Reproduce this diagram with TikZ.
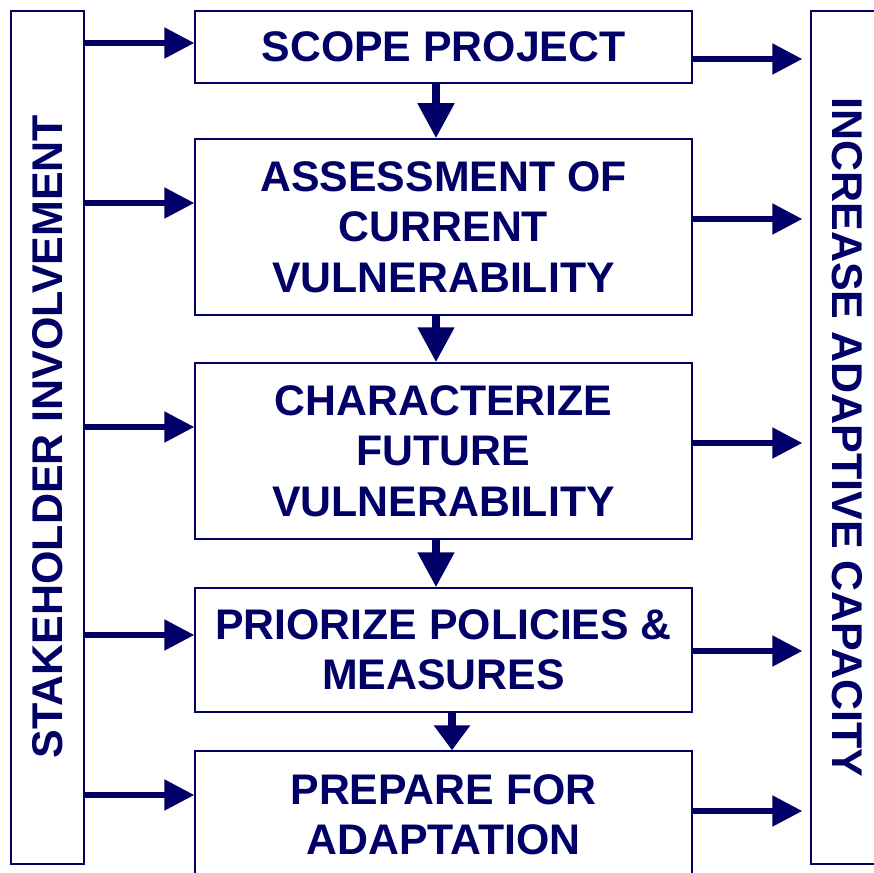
\documentclass[tikz,border=0pt]{standalone}
\usepackage{fontspec}
\setmainfont{Liberation Sans}
\usetikzlibrary{arrows.meta}
\definecolor{navy}{RGB}{0,0,102}
\begin{document}
\begin{tikzpicture}[x=1pt,y=-1pt,
  box/.style={draw=navy,line width=1.5pt,inner sep=0pt,text=navy,
    font=\fontsize{42.8}{50.5}\selectfont\bfseries,align=center,minimum width=497pt},
  side/.style={draw=navy,line width=1.5pt,inner sep=0pt,minimum width=73pt,minimum height=853pt},
  sidetext/.style={text=navy,inner sep=0pt,font=\fontsize{43}{50.5}\selectfont\bfseries},
  harr/.style={draw=navy,line width=5.5pt,-{Triangle[length=30pt,width=30pt]}},
  darr/.style={draw=navy,line width=8pt,-{Triangle[length=35pt,width=35pt]}},
  darrs/.style={draw=navy,line width=8pt,-{Triangle[length=25pt,width=35pt]}}]
\useasboundingbox (0,0) rectangle (874,872);
\clip (0,0) rectangle (874,872);
\fill[white] (0,0) rectangle (874,872);
% side boxes
\node[side] (s) at (47.5,437.5) {};
\node[sidetext,rotate=90] (st) at (47.5,436.5) {STAKEHOLDER INVOLVEMENT};
\node[side] (c) at (847.5,437.5) {};
\node[sidetext,rotate=-90] (ct) at (847,437.5) {INCREASE ADAPTIVE CAPACITY};
% step boxes
\node[box,minimum height=72pt] (b1) at (443.5,47) {SCOPE PROJECT};
\node[box,minimum height=176pt] (b2) at (443.5,227) {ASSESSMENT OF\\CURRENT\\VULNERABILITY};
\node[box,minimum height=176pt] (b3) at (443.5,451) {CHARACTERIZE\\FUTURE\\VULNERABILITY};
\node[box,minimum height=124pt] (b4) at (443.5,650) {PRIORIZE POLICIES \&\\MEASURES};
\node[box,minimum height=128pt] (b5) at (443.5,815) {PREPARE FOR\\ADAPTATION};
% down arrows
\draw[darr] (b1.south -| 436,0) -- (b2.north -| 436,0);
\draw[darr] (b2.south -| 436,0) -- (b3.north -| 436,0);
\draw[darr] (b3.south -| 436,0) -- (b4.north -| 436,0);
\draw[darrs] (b4.south -| 452,0) -- (b5.north -| 452,0);
% left arrows
\draw[harr] (s.east |- 0,43) -- (b1.west |- 0,43);
\draw[harr] (s.east |- 0,203) -- (b2.west |- 0,203);
\draw[harr] (s.east |- 0,427) -- (b3.west |- 0,427);
\draw[harr] (s.east |- 0,635) -- (b4.west |- 0,635);
\draw[harr] (s.east |- 0,795) -- (b5.west |- 0,795);
% right arrows
\draw[harr,shorten >=8pt] (b1.east |- 0,59) -- (c.west |- 0,59);
\draw[harr,shorten >=8pt] (b2.east |- 0,219) -- (c.west |- 0,219);
\draw[harr,shorten >=8pt] (b3.east |- 0,443) -- (c.west |- 0,443);
\draw[harr,shorten >=8pt] (b4.east |- 0,651) -- (c.west |- 0,651);
\draw[harr,shorten >=8pt] (b5.east |- 0,811) -- (c.west |- 0,811);
\end{tikzpicture}
\end{document}
